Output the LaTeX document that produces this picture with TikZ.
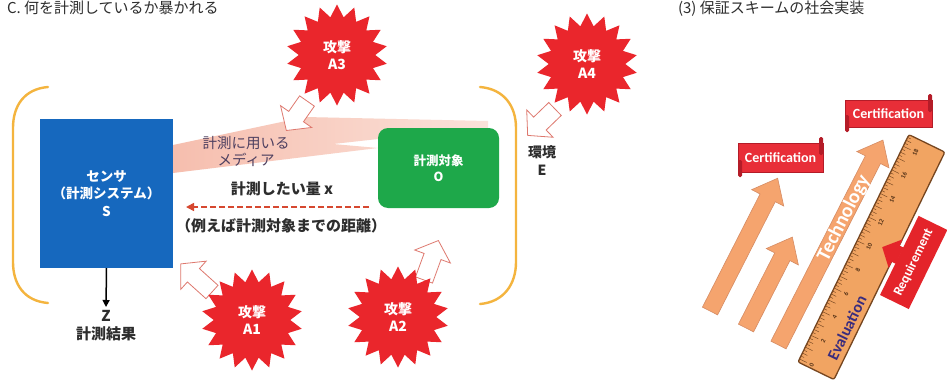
\documentclass[tikz,border=0pt]{standalone}
\usepackage{fontspec}
\setmainfont{Noto Sans CJK JP}
\newfontfamily\latinsans{Carlito}
\usetikzlibrary{shapes.geometric,arrows.meta,calc}

\definecolor{sensorblue}{RGB}{22,104,190}
\definecolor{targetgreen}{RGB}{30,168,74}
\definecolor{attackred}{RGB}{234,38,44}
\definecolor{bracketorange}{RGB}{244,180,62}
\definecolor{beampink}{RGB}{246,190,174}
\definecolor{beamlight}{RGB}{251,226,218}
\definecolor{outlinered}{RGB}{222,120,110}
\definecolor{dashred}{RGB}{214,72,48}
\definecolor{mediagray}{RGB}{78,64,96}
\definecolor{inkgray}{RGB}{45,45,45}
\definecolor{techorange}{RGB}{245,164,110}
\definecolor{techedge}{RGB}{214,140,100}
\definecolor{rulerfill}{RGB}{241,164,98}
\definecolor{rulerdark}{RGB}{118,70,32}
\definecolor{evalpurple}{RGB}{58,44,125}
\definecolor{bannerred}{RGB}{232,46,56}
\definecolor{bannerdark}{RGB}{180,28,40}
\definecolor{reqred}{RGB}{228,36,42}

\tikzset{
  every node/.style={inner sep=0pt, outer sep=0pt},
  titletext/.style={text=inkgray, anchor=base west, font=\fontsize{15}{18}\selectfont},
  sensorbox/.style={rectangle, fill=sensorblue, minimum width=133pt, minimum height=149pt,
    text=white, align=center, font=\fontsize{13.5}{17.5}\selectfont\bfseries},
  targetbox/.style={rectangle, rounded corners=10pt, fill=targetgreen, minimum width=121pt,
    minimum height=80pt, text=white, align=center, font=\fontsize{12.5}{16}\selectfont\bfseries},
  mediatext/.style={text=mediagray, align=center, font=\fontsize{14.5}{17}\selectfont},
  labeltext/.style={text=inkgray, align=center, font=\fontsize{15}{18}\selectfont\bfseries},
  attack/.style={star, star points=18, star point ratio=1.32, minimum size=101pt,
    fill=attackred, text=white, align=center, font=\fontsize{14}{17}\selectfont\bfseries},
  hollowarrow/.style={draw=outlinered, fill=white, line width=0.8pt},
  bracket/.style={draw=bracketorange, line width=2.4pt, line cap=round},
  dasharrow/.style={draw=dashred, line width=1.6pt, dash pattern=on 6pt off 3pt,
    -{Triangle[length=8pt,width=8pt]}},
  outarrow/.style={draw=black, line width=1.5pt, -{Triangle[length=7pt,width=7pt]}},
  techarrow/.style={fill=techorange, draw=techedge, line width=0.6pt},
  techtext/.style={text=white, font=\latinsans\fontsize{20}{22}\selectfont\bfseries},
  banner/.style={rectangle, fill=bannerred, draw=bannerdark, line width=0.5pt, text=white,
    font=\latinsans\fontsize{14}{16}\selectfont\bfseries},
  bannerroll/.style={fill=bannerdark, rounded corners=1.5pt},
  rulerbody/.style={fill=rulerfill, draw=rulerdark, line width=1.3pt, rounded corners=2pt},
  rulertick/.style={draw=rulerdark, line width=0.45pt},
  rulernum/.style={text=rulerdark!70!black, font=\latinsans\fontsize{6.5}{7}\selectfont\bfseries},
  evaltext/.style={text=evalpurple, font=\latinsans\fontsize{16}{18}\selectfont\bfseries},
  reqtext/.style={text=white, font=\latinsans\fontsize{13.5}{15}\selectfont\bfseries},
  % block arrow along +x: length, shaft half-width, head half-width, head length
  pics/blockarrow/.style n args={4}{code={
    \path[pic actions] (0,-#2) -- ({#1-#4},-#2) -- ({#1-#4},-#3) -- (#1,0)
      -- ({#1-#4},#3) -- ({#1-#4},#2) -- (0,#2) -- cycle;
  }},
}

\begin{document}
\begin{tikzpicture}[x=1pt,y=-1pt]
\useasboundingbox (0,0) rectangle (947,380);
\clip (0,0) rectangle (947,380);
\fill[white] (0,0) rectangle (947,380);

% ---------- headings ----------
\node[titletext] (titleC) at (7,13.5) {C. 何を計測しているか暴かれる};
\node[titletext] (title3) at (678,13.5) {(3) 保証スキームの社会実装};

% ---------- measurement setting ----------
\draw[bracket] (48,87) .. controls (24,89) and (13,106) .. (13,128) -- (13,262)
  .. controls (13,284) and (24,301) .. (48,303);
\draw[bracket] (480,87) .. controls (504,89) and (516,106) .. (516,128) -- (516,262)
  .. controls (516,284) and (504,302) .. (480,304);

% medium between sensor and target
\shade[left color=beampink, right color=beamlight]
  (173,145) -- (305,117) -- (488,121) -- (488,139) -- (378,139) -- (333,144)
  -- (378,148) -- (173,173) -- cycle;

\node[sensorbox] (sensor) at (106.5,193.5) {センサ\\（計測システム）\\S};
\node[targetbox] (target) at (438.5,168) {計測対象\\O};

\node[mediatext] (media) at (246,151) {計測に用いる\\メディア};
\node[labeltext] (qty) at (282,189) {計測したい量 x};
\coordinate (xfrom) at (369,207);
\coordinate (xto) at (186,207);
\draw[dasharrow] (xfrom) -- (xto);
\node[labeltext] (example) at (281,226) {（例えば計測対象までの距離）};

\coordinate (zend) at (106,307);
\draw[outarrow] (sensor.south) -- (zend);
\node[labeltext] (result) at (106,326) {Z\\計測結果};

\node[labeltext, font=\fontsize{14}{18}\selectfont\bfseries] (env) at (542,161) {環境\\E};

% attack arrows
\pic[hollowarrow, rotate=235] (hitA3) at (307,101) {blockarrow={36}{9}{19}{17}};
\pic[hollowarrow, rotate=224] (hitA4) at (555,109) {blockarrow={38}{9}{19}{17}};
\pic[hollowarrow, rotate=138] (hitA1) at (212,292) {blockarrow={42}{9}{19}{17}};
\pic[hollowarrow, rotate=70] (hitA2) at (424,280) {blockarrow={42}{9}{19}{17}};

% attacks
\node[attack] (a3) at (337,55) {攻撃\\A3};
\node[attack] (a4) at (587,64) {攻撃\\A4};
\node[attack] (a1) at (252,320) {攻撃\\A1};
\node[attack] (a2) at (398,317) {攻撃\\A2};

% ---------- assurance scheme ----------
\pic[techarrow, rotate=63] (tech1) at (710,311) {blockarrow={149}{8.5}{18}{22}};
\pic[techarrow, rotate=63] (tech2) at (746,328) {blockarrow={102}{8.5}{18}{22}};
\pic[techarrow, rotate=63] (tech3) at (778.5,345) {blockarrow={230}{8.5}{18}{22}};
\node[techtext, rotate=63] (technology) at (844,218) {Technology};

\node[banner, minimum width=85pt, minimum height=29pt] (cert1) at (780.5,157.5) {Certification};
\fill[bannerroll] ($(cert1.north east)+(-4,-6)$) rectangle ($(cert1.north east)+(0,12)$);
\fill[bannerroll] ($(cert1.south west)+(0,-12)$) rectangle ($(cert1.south west)+(4,5)$);
\node[banner, minimum width=87pt, minimum height=27pt] (cert2) at (888.5,113.5) {Certification};
\fill[bannerroll] ($(cert2.north east)+(-4,-6)$) rectangle ($(cert2.north east)+(0,12)$);
\fill[bannerroll] ($(cert2.south west)+(0,-12)$) rectangle ($(cert2.south west)+(4,5)$);

% ruler
\begin{scope}[shift={(798,362)}, rotate=64]
  \draw[rulerbody] (0,0) rectangle (253,40);
  \foreach \i in {0,...,75} {
    \pgfmathsetmacro{\ta}{3.4+3.2875*\i}
    \pgfmathsetmacro{\tl}{ifthenelse(mod(\i,4)==0,8,ifthenelse(mod(\i,2)==0,5.5,3.5))}
    \draw[rulertick] (\ta,0.6) -- (\ta,\tl);
  }
  \foreach \k in {0,2,...,18}
    \node[rulernum, transform shape] (num\k) at ({3.4+13.15*\k},13.5) {\k};
  \node[evaltext, transform shape] (evaluation) at (52,29) {Evaluation};
\end{scope}

% requirement pushing on the ruler
\begin{scope}[shift={(880,295)}, rotate=64]
  \fill[reqred] (0,0) rectangle (88,32);
  \fill[reqred] (35,0.5) -- (35,-4) -- (28,-4) -- (44,-19) -- (60,-4) -- (53,-4) -- (53,0.5) -- cycle;
  \node[reqtext, transform shape] (requirement) at (44,16) {Requirement};
\end{scope}
\end{tikzpicture}
\end{document}
